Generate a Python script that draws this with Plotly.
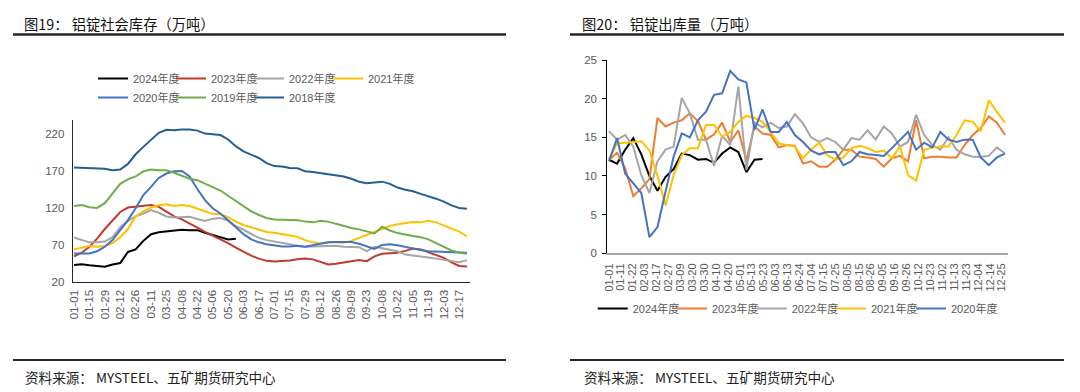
import plotly.graph_objects as go

# ---------------- Left chart: 铝锭社会库存（万吨） weekly ----------------
LEFT_DATES = ["01-01", "01-08", "01-15", "01-22", "01-29", "02-05", "02-12", "02-19", "02-26",
              "03-04", "03-11", "03-18", "03-25", "04-01", "04-08", "04-15", "04-22", "04-29",
              "05-06", "05-13", "05-20", "05-27", "06-03", "06-10", "06-17", "06-24", "07-01",
              "07-08", "07-15", "07-22", "07-29", "08-05", "08-12", "08-19", "08-26", "09-02",
              "09-09", "09-16", "09-23", "09-30", "10-08", "10-15", "10-22", "10-29", "11-05",
              "11-12", "11-19", "11-26", "12-03", "12-10", "12-17", "12-24"]
LEFT_TICKS = ["01-01", "01-15", "01-29", "02-12", "02-26", "03-11", "03-25", "04-08", "04-22",
              "05-06", "05-20", "06-03", "06-17", "07-01", "07-15", "07-29", "08-12", "08-26",
              "09-09", "09-23", "10-08", "10-22", "11-05", "11-19", "12-03", "12-17"]

INV_2024 = [43.5, 44.5, 43, 41.5, 41, 44, 46, 61, 64.5, 76, 85, 87.5, 89, 89.5, 91, 90.5, 90.5,
            87, 84, 82, 78, 79]
INV_2023 = [55, 60, 68, 79, 92, 104, 115, 121, 122.5, 124,
            124.5, 122, 115, 109, 105, 100, 94, 88, 83, 78.5,
            73, 67, 61, 56, 52, 49, 48, 48.5, 49.5, 51,
            52, 51, 47, 44, 45, 47, 49, 50, 48.5, 55,
            58.5, 59, 60, 62.5, 65.5, 64.5, 61, 57.5, 53, 47,
            42, 41.5]
INV_2022 = [80.5, 77, 74, 74, 75, 81, 94, 103, 109, 113,
            117.5, 114, 109, 107.5, 108, 108.5, 105.5, 103, 106, 107,
            103, 96, 91, 85, 80, 77, 75.5, 74, 71.5, 69,
            68, 68.5, 69, 70, 69.5, 68, 68, 67.5, 62, 68,
            66, 64.5, 62, 57.5, 56.5, 55.5, 53.5, 52, 50.5, 49.5,
            47, 50]
INV_2021 = [64.5, 66.5, 69, 68, 69, 73, 81, 92, 109, 116,
            121, 124, 125.5, 123, 124.5, 123, 120, 116, 112.5, 112,
            108, 102, 97.5, 94, 91, 88, 87, 85, 83, 81.5,
            77, 74, 72.5, 74, 74, 73.5, 76, 80, 84, 87,
            91, 96, 98.5, 100, 101.5, 101, 103, 101, 97, 92,
            88.5, 82]
INV_2020 = [59, 58.5, 59, 62, 68, 77, 90, 104, 120, 138,
            149, 161, 167, 170, 170.5, 163, 146, 131, 120, 113,
            104, 94, 85, 78, 74, 71.5, 70, 68.5, 68.5, 69.5,
            68, 70, 72.5, 74, 74.5, 75, 74.5, 72, 68, 65,
            70.5, 71.5, 70, 67.5, 65, 63.5, 62, 61.5, 62, 61.5,
            60.5, 60]
INV_2019 = [123, 124.5, 121.5, 120.5, 127, 140, 153, 159, 163, 170,
            172.5, 171.5, 171.5, 168, 164.5, 160, 158, 153, 149, 144,
            137, 130, 123, 116, 111, 107, 105, 104.5, 104.5, 104,
            102, 101, 103, 102, 99, 96, 93.5, 91.5, 89, 86,
            95, 90, 86.5, 84, 82.5, 81, 78, 73, 68, 63,
            60, 58.5]
INV_2018 = [175, 174.5, 173.5, 174, 173.5, 171.5, 172.5, 180, 193, 203,
            212, 222, 226, 225.5, 226.5, 226.5, 225, 221, 220, 219,
            213, 204, 197, 192, 188, 181, 177, 176.5, 174.5, 174,
            170, 169, 167.5, 166, 164.5, 163, 160, 156, 154, 155,
            156, 153, 148, 145, 143, 139.5, 136.5, 133, 129, 124,
            120.5, 119.5]

# ---------------- Right chart: 铝锭出库量（万吨） weekly ----------------
RIGHT_TICKS = ["01-01", "01-11", "01-22", "02-03", "02-17", "02-27", "03-09", "03-20", "03-30",
               "04-10", "04-20", "05-01", "05-13", "05-23", "06-03", "06-13", "06-24", "07-04",
               "07-15", "07-25", "08-05", "08-15", "08-26", "09-05", "09-16", "09-26", "10-12",
               "10-23", "11-02", "11-13", "11-23", "12-04", "12-14", "12-25"]

OUT_2024 = [12.1, 11.6, 13.4, 14.9, 12.8, 10.0, 8.1, 9.9, 10.9, 12.9,
            12.7, 12.1, 12.2, 11.7, 12.9, 13.7, 13.1, 10.5, 12.1, 12.2]
OUT_2023 = [12.1, 13.0, 11.0, 7.4, 8.4, 9.6, 17.5, 16.4, 16.9, 17.2,
            18.1, 17.1, 14.7, 15.4, 16.9, 14.4, 15.9, 12.0, 16.4, 15.5,
            15.3, 13.7, 14.0, 13.9, 11.6, 11.9, 11.2, 11.2, 12.1, 13.4,
            13.4, 12.5, 12.4, 12.2, 11.2, 12.3, 12.6, 11.9, 17.2, 12.3,
            12.5, 12.5, 12.4, 12.4, 14.0, 15.3, 16.2, 17.7, 16.9, 15.3]
OUT_2022 = [15.8, 14.7, 15.3, 13.8, 10.1, 7.8, 11.9, 13.4, 13.8, 20.1,
            18.1, 14.7, 14.7, 11.3, 15.2, 14.0, 21.6, 10.8, 16.9, 16.3,
            16.9, 16.2, 16.4, 18.0, 16.8, 15.0, 14.4, 14.9, 14.4, 13.4,
            14.9, 14.7, 15.9, 14.7, 16.4, 15.5, 13.8, 14.4, 17.9, 15.3,
            14.0, 13.4, 15.0, 13.4, 12.8, 12.5, 12.5, 12.6, 13.7, 12.9]
OUT_2021 = [12.2, 14.2, 14.3, 14.4, 14.5, 13.3, 10.0, 6.2, 10.1, 12.7,
            13.6, 13.6, 16.6, 16.6, 15.1, 15.7, 17.0, 17.8, 17.5, 17.0,
            15.7, 14.2, 14.0, 13.8, 12.3, 13.4, 14.3, 12.7, 12.1, 12.4,
            13.6, 13.9, 13.6, 13.1, 13.3, 12.3, 13.8, 10.1, 9.4, 13.4,
            13.7, 13.8, 13.8, 15.3, 17.2, 17.0, 15.8, 19.8, 18.3, 16.9]
OUT_2020 = [11.9, 14.9, 10.3, 9.0, 7.8, 2.1, 3.4, 8.0, 12.5, 15.5,
            15.0, 17.2, 18.3, 20.5, 20.7, 23.6, 22.5, 22.1, 16.0, 18.6,
            15.7, 15.7, 17.0, 15.3, 14.4, 13.3, 12.8, 13.1, 13.1, 11.4,
            11.9, 13.1, 12.8, 12.7, 12.6, 13.6, 14.7, 15.7, 13.4, 14.3,
            13.7, 15.7, 14.7, 14.4, 14.7, 14.7, 12.4, 11.4, 12.4, 12.9]

# ---------------- styling ----------------
PAGE_W, PAGE_H = 1080, 392
BODY = 8                      # default page margin in front of the plot div
W, H = PAGE_W - BODY, PAGE_H - BODY
FONT = "Liberation Sans, Noto Sans CJK SC, sans-serif"
CJK = "Noto Sans CJK SC, sans-serif"
TICK_GRAY = "#595959"


def fx(p):
    """screen x pixel -> paper fraction"""
    return (p - BODY) / W


def fy(p):
    """screen y pixel -> paper fraction"""
    return 1 - (p - BODY) / H


fig = go.Figure()

# (name, values, colour, legend left edge, legend row centre)
left_series = [
    ("2024年度", INV_2024, "#000000", 93, 78.5),
    ("2023年度", INV_2023, "#C0392B", 171, 78.5),
    ("2022年度", INV_2022, "#A5A5A5", 249, 78.5),
    ("2021年度", INV_2021, "#FFC000", 328, 78.5),
    ("2020年度", INV_2020, "#4472C4", 93, 97.5),
    ("2019年度", INV_2019, "#70AD47", 171, 97.5),
    ("2018年度", INV_2018, "#255E91", 249, 97.5),
]
right_series = [
    ("2024年度", OUT_2024, "#000000", 592.7, 308.5),
    ("2023年度", OUT_2023, "#ED7D31", 672, 308.5),
    ("2022年度", OUT_2022, "#A5A5A5", 751.7, 308.5),
    ("2021年度", OUT_2021, "#FFC000", 831, 308.5),
    ("2020年度", OUT_2020, "#4472C4", 911, 308.5),
]

legend_layouts = {}
leg_idx = 0


def next_legend(lx, ly):
    global leg_idx
    leg_idx += 1
    key = "legend" if leg_idx == 1 else f"legend{leg_idx}"
    legend_layouts[key] = dict(
        x=fx(lx), y=fy(ly), xanchor="left", yanchor="middle", orientation="h",
        bgcolor="rgba(0,0,0,0)", borderwidth=0, itemwidth=30,
        font=dict(family=FONT, size=11, color=TICK_GRAY),
        itemclick=False, itemdoubleclick=False)
    return key


for name, vals, color, lx, ly in left_series:
    fig.add_trace(go.Scatter(
        x=LEFT_DATES[:len(vals)], y=vals, mode="lines", name=name,
        line=dict(color=color, width=2), xaxis="x", yaxis="y",
        legend=next_legend(lx, ly), hoverinfo="skip"))

for name, vals, color, lx, ly in right_series:
    fig.add_trace(go.Scatter(
        x=list(range(len(vals))), y=vals, mode="lines", name=name,
        line=dict(color=color, width=2), xaxis="x2", yaxis="y2",
        legend=next_legend(lx, ly), hoverinfo="skip"))

tick_step = 1.473  # one date label about every 1.5 weekly points
right_tickvals = [i * tick_step for i in range(len(RIGHT_TICKS))]

fig.update_layout(
    template="none",
    width=W, height=H, margin=dict(l=0, r=0, t=0, b=0, autoexpand=False),
    paper_bgcolor="white", plot_bgcolor="rgba(0,0,0,0)",
    showlegend=True,
    xaxis=dict(
        domain=[fx(72.7), fx(470)], anchor="y", type="category",
        categoryorder="array", categoryarray=LEFT_DATES,
        tickvals=LEFT_TICKS, ticktext=LEFT_TICKS, tickangle=-90,
        range=[-0.17, 51.4], showgrid=False, zeroline=False, automargin=False,
        showline=True, linecolor="#262626", linewidth=1, ticks="",
        ticklabelstandoff=2,
        tickfont=dict(family=FONT, size=11.5, color=TICK_GRAY)),
    yaxis=dict(
        domain=[fy(282.3), fy(119.5)], anchor="x", range=[20, 240],
        tickvals=[20, 70, 120, 170, 220], showgrid=False, zeroline=False,
        automargin=False, showline=True, linecolor="#262626", linewidth=1,
        ticks="outside", ticklen=5, tickcolor="rgba(0,0,0,0)",
        tickfont=dict(family=FONT, size=11.5, color=TICK_GRAY)),
    xaxis2=dict(
        domain=[fx(607.3), fx(1008)], anchor="y2", range=[-0.21, 49.37],
        tickvals=right_tickvals, ticktext=RIGHT_TICKS, tickangle=-90,
        showgrid=False, zeroline=False, automargin=False, showline=True,
        linecolor="#A6A6A6", linewidth=1.5, ticks="", ticklabelstandoff=4,
        tickfont=dict(family=FONT, size=11, color=TICK_GRAY)),
    yaxis2=dict(
        domain=[fy(253.3), fy(60)], anchor="x2", range=[0, 25],
        tickvals=[0, 5, 10, 15, 20, 25], showgrid=False, zeroline=False,
        automargin=False, showline=True, linecolor="#000000", linewidth=1,
        ticks="outside", ticklen=4, tickcolor="#000000", ticklabelstandoff=3,
        tickfont=dict(family=FONT, size=11.5, color=TICK_GRAY)),
    **legend_layouts,
)

# titles, rules and source notes
for text, xpos in (("图19： 铝锭社会库存（万吨）", 22), ("图20： 铝锭出库量（万吨）", 580)):
    fig.add_annotation(
        text=text, x=fx(xpos), y=fy(23), xref="paper", yref="paper",
        xanchor="left", yanchor="middle", showarrow=False,
        font=dict(family=CJK, size=14.3, color="#111111"))

for xpos in (23, 582):
    fig.add_annotation(
        text="资料来源： MYSTEEL、五矿期货研究中心", x=fx(xpos), y=fy(377),
        xref="paper", yref="paper", xanchor="left", yanchor="middle",
        showarrow=False, font=dict(family=CJK, size=13.6, color="#222222"))

rules = [(13, 506, 34.5, 2.5), (570, 1064, 34.5, 2.5), (13, 506, 360, 2), (570, 1064, 360, 2)]
for x0, x1, yy, w in rules:
    fig.add_shape(type="line", xref="paper", yref="paper",
                  x0=fx(x0), x1=fx(x1), y0=fy(yy), y1=fy(yy),
                  line=dict(color="#262626", width=w))

fig.write_html("out.html")
